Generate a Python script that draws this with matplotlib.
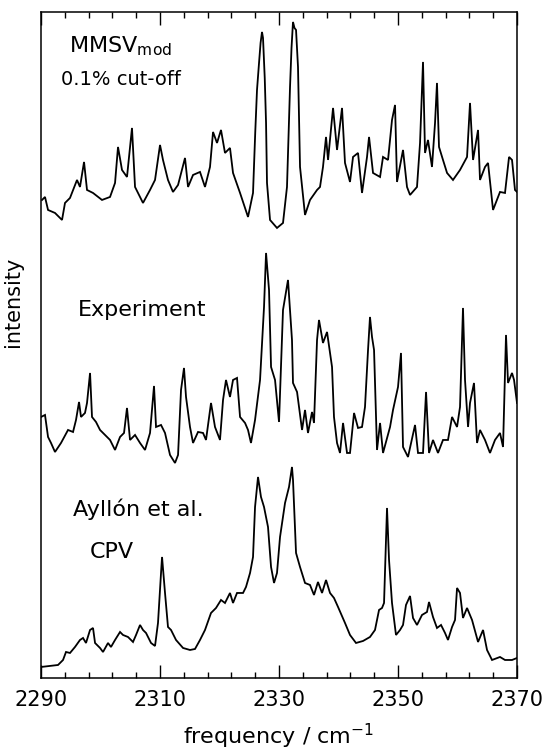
import numpy as np
import matplotlib
matplotlib.use("Agg")
import matplotlib.pyplot as plt

# MMSV_mod simulation, 0.1% cut-off (frequency in cm^-1, intensity arb. units)
mmsv_freq = [2290.17, 2290.67, 2291.18, 2292.35, 2293.53, 2294.03, 2294.87, 2296.05, 2296.55, 2297.23,
             2297.73, 2298.74, 2300.25, 2301.6, 2302.44, 2302.94, 2303.61, 2304.45, 2305.29, 2305.8,
             2307.14, 2308.32, 2309.16, 2310.0, 2310.5, 2311.34, 2312.18, 2313.03, 2314.2, 2314.71,
             2315.55, 2316.72, 2317.56, 2318.4, 2318.91, 2319.58, 2320.25, 2320.92, 2321.76, 2322.27,
             2323.45, 2324.79, 2325.63, 2326.0, 2326.3, 2326.64, 2326.9, 2327.14, 2327.31, 2327.6,
             2327.82, 2327.98, 2328.49,
             2329.66, 2330.67, 2331.34, 2331.85, 2332.1, 2332.35, 2332.6, 2332.86, 2333.19, 2333.53,
             2334.37, 2335.21,
             2336.39, 2336.89, 2337.39, 2337.9, 2338.24, 2339.08, 2339.75, 2340.59, 2341.09, 2341.93,
             2342.44, 2343.28, 2343.95, 2344.79, 2345.13, 2345.8, 2346.98, 2347.48, 2348.32, 2348.99,
             2349.5, 2349.83, 2350.84, 2351.51, 2352.02, 2353.19, 2353.7, 2354.2, 2354.54, 2355.04,
             2355.71, 2356.22, 2356.55, 2356.89, 2357.56, 2358.24, 2359.24, 2360.42, 2361.6, 2362.1,
             2362.61, 2363.45, 2363.78, 2364.62, 2365.13, 2365.97, 2367.14, 2367.98, 2368.66, 2369.16,
             2369.66, 2370.0]
mmsv_int = [28, 31, 18, 15, 8, 25, 30, 48, 41, 66,
            38, 35, 28, 31, 45, 81, 58, 51, 100, 41,
            25, 38, 48, 83, 68, 48, 36, 43, 70, 41,
            53, 56, 41, 61, 96, 85, 98, 75, 80, 55,
            35, 11, 35, 95, 138, 165, 185, 196, 190, 150,
            105, 45, 8,
            0, 5, 41, 141, 180, 206, 200, 198, 161, 61,
            13, 28,
            38, 41, 61, 91, 68, 120, 78, 120, 65, 46,
            71, 75, 35, 71, 91, 55, 51, 71, 68, 108,
            123, 46, 78, 41, 33, 41, 85, 166, 75, 88,
            61, 105, 145, 81, 68, 55, 48, 58, 71, 125,
            68, 98, 48, 61, 65, 18, 36, 35, 71, 68,
            38, 36]

# measured spectrum
exp_freq = [2290.0, 2290.67, 2291.18, 2291.68, 2292.35, 2293.36, 2294.54, 2295.38, 2295.88, 2296.39,
            2296.72, 2297.39, 2297.73, 2298.24, 2298.57, 2299.24, 2299.92, 2300.76, 2301.6, 2302.44,
            2303.28, 2303.95, 2304.45, 2304.96, 2305.8, 2306.64, 2307.48, 2308.32, 2308.99, 2309.33,
            2310.17, 2310.84, 2311.68, 2312.52, 2313.03, 2313.53, 2314.03, 2314.37, 2315.04, 2315.55,
            2316.39, 2317.23, 2317.73, 2318.57, 2319.24, 2320.08, 2320.59, 2321.09, 2321.76, 2322.27,
            2322.94, 2323.45, 2324.29, 2324.79, 2325.29, 2325.97, 2326.81, 2327.48, 2327.82, 2328.32,
            2328.66, 2329.33, 2330.0, 2330.67, 2331.51, 2332.18, 2332.35, 2333.03, 2333.87, 2334.37,
            2334.87, 2335.55, 2335.88, 2336.39, 2336.72, 2337.39, 2338.07, 2338.91, 2339.24, 2339.75,
            2340.25, 2340.76, 2341.43, 2341.93, 2342.61, 2343.28, 2343.95, 2344.45, 2344.96, 2345.29,
            2345.63, 2345.97, 2346.47, 2346.98, 2347.48, 2348.66, 2349.16, 2350.0, 2350.5, 2350.84,
            2351.68, 2352.86, 2353.36, 2354.2, 2354.71, 2355.21, 2355.88, 2356.72, 2357.56, 2358.4,
            2359.08, 2359.92, 2360.42, 2360.92, 2361.26, 2361.77, 2362.1, 2362.77, 2363.28, 2363.78,
            2364.62, 2365.46, 2366.3, 2367.14, 2367.65, 2368.15, 2368.49, 2369.16, 2369.5, 2370.0]
exp_int = [46, 48, 26, 20, 11, 20, 33, 31, 43, 61,
           46, 50, 60, 90, 46, 41, 33, 28, 23, 13,
           26, 30, 55, 23, 28, 20, 13, 30, 77, 36,
           38, 30, 8, 0, 8, 73, 95, 66, 36, 20,
           31, 30, 23, 60, 36, 23, 63, 83, 66, 83,
           85, 46, 40, 33, 20, 43, 83, 156, 210, 173,
           96, 83, 41, 153, 183, 123, 80, 71, 33, 53,
           30, 51, 40, 123, 143, 120, 131, 96, 46, 20,
           10, 40, 10, 10, 50, 35, 36, 56, 113, 146,
           126, 113, 13, 40, 10, 36, 53, 76, 110, 16,
           6, 38, 10, 10, 71, 10, 23, 10, 23, 23,
           46, 36, 56, 155, 83, 36, 60, 80, 20, 33,
           23, 10, 23, 30, 16, 128, 80, 90, 83, 60]

# CPV calculation of Ayllon et al.
cpv_freq = [2290.0, 2292.86, 2293.7, 2294.2, 2294.87, 2295.71, 2296.55, 2297.06, 2297.56, 2298.24,
            2298.74, 2299.08, 2299.92, 2300.42, 2301.26, 2301.76, 2302.44, 2303.28, 2303.78, 2304.62,
            2305.46, 2305.97, 2306.64, 2307.14, 2307.65, 2308.49, 2309.16, 2309.66, 2310.17, 2310.34,
            2310.84, 2311.34, 2311.85, 2312.69, 2313.87, 2315.04, 2315.88, 2316.72, 2317.56, 2318.57,
            2319.41, 2320.25, 2320.92, 2321.76, 2322.27, 2322.94, 2323.95, 2324.45, 2325.13, 2325.63,
            2325.97, 2326.47, 2326.97, 2327.48, 2328.15, 2328.66, 2329.16, 2329.66, 2330.17, 2331.01,
            2331.68, 2332.18, 2332.35, 2332.86, 2333.53, 2334.37, 2335.21, 2335.88, 2336.55, 2337.23,
            2337.9, 2338.57, 2339.24, 2339.92, 2341.09, 2341.93, 2342.94, 2344.12, 2345.29, 2346.13,
            2346.81, 2347.31, 2347.65, 2347.98, 2348.15, 2348.49, 2348.99, 2349.66, 2350.34, 2350.84,
            2351.34, 2352.02, 2352.52, 2353.19, 2354.03, 2354.87, 2355.21, 2355.88, 2356.55, 2357.23,
            2357.9, 2358.4, 2359.08, 2359.58, 2359.92, 2360.42, 2360.92, 2361.6, 2362.44, 2363.45,
            2364.29, 2364.96, 2365.8, 2367.14, 2367.98, 2369.16, 2370.0]
cpv_int = [0, 2, 7, 15, 14, 20, 27, 29, 24, 37,
           39, 24, 19, 15, 24, 20, 27, 35, 32, 30,
           25, 32, 42, 37, 34, 24, 21, 44, 94, 110,
           74, 40, 37, 27, 19, 17, 18, 27, 37, 54,
           59, 67, 64, 74, 64, 74, 74, 80, 94, 110,
           160, 190, 170, 160, 140, 100, 84, 94, 130, 164,
           180, 200, 187, 114, 100, 84, 82, 72, 85, 74,
           87, 74, 69, 60, 44, 32, 24, 26, 30, 37,
           57, 59, 64, 127, 159, 107, 64, 32, 37, 42,
           62, 71, 49, 42, 52, 55, 65, 50, 39, 42,
           34, 27, 40, 47, 79, 74, 49, 59, 47, 25,
           37, 17, 7, 10, 7, 7, 9]

major_ticks = [2290, 2310, 2330, 2350, 2370]
tick_labels = ['2290', '2310', '2330', '2350', '2370']

plt.rcParams['font.family'] = ['DejaVu Sans']
plt.rcParams['mathtext.fontset'] = 'dejavusans'

fig = plt.figure(figsize=(5.44, 7.56), dpi=100)
ax = fig.add_axes([0.0754, 0.1032, 0.875, 0.881])

# stack the three spectra with vertical offsets
traces = [(cpv_freq, cpv_int, 11), (exp_freq, exp_int, 215), (mmsv_freq, mmsv_int, 450)]
for freq, inten, off in traces:
    ax.plot(freq, np.asarray(inten) + off, color='black', lw=1.3, solid_joinstyle='miter')

ax.set_xlim(2290, 2370)
ax.set_ylim(0, 666)
ax.set_xticks(major_ticks)
ax.set_xticklabels(tick_labels)
ax.set_xticks(np.arange(2290, 2371, 4), minor=True)
ax.tick_params(axis='x', which='both', direction='in', top=True, bottom=True,
               width=1.0, labelsize=15, pad=9)
ax.tick_params(axis='x', which='major', length=9.5)
ax.tick_params(axis='x', which='minor', length=4.5)
ax.set_yticks([])
for sp in ax.spines.values():
    sp.set_linewidth(1.1)

ax.set_xlabel(r'frequency / cm$^{-1}$', fontsize=16, labelpad=8)
ax.set_ylabel('intensity', fontsize=15)
ax.yaxis.set_label_coords(-0.037, 0.565)

# trace labels
ax.text(2303.4, 626, r'MMSV$_{\mathrm{mod}}$', fontsize=16, ha='center', va='baseline')
ax.text(2303.4, 593, '0.1% cut-off', fontsize=14, ha='center', va='baseline')
ax.text(2307.0, 362, 'Experiment', fontsize=16, ha='center', va='baseline')
ax.text(2306.4, 162, 'Ayllón et al.', fontsize=16, ha='center', va='baseline')
ax.text(2301.9, 120, 'CPV', fontsize=16, ha='center', va='baseline')

fig.savefig('out.png', dpi=100)
